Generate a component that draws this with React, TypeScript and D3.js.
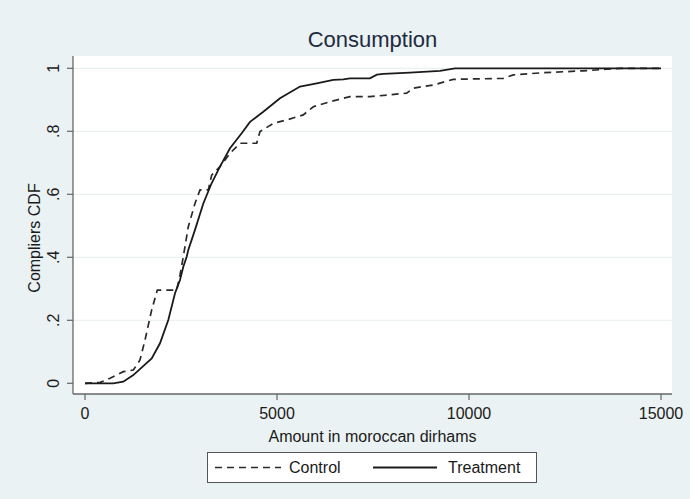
import React from "react";
import * as d3 from "d3";

const title = "Consumption";
const xTicks = [0, 5000, 10000, 15000];
const yTicks = [0, 0.2, 0.4, 0.6, 0.8, 1];
const yTickLabels = ["0", ".2", ".4", ".6", ".8", "1"];
const xLabel = "Amount in moroccan dirhams";
const yLabel = "Compliers CDF";
const seriesNames = ["Control", "Treatment"];

const treatmentX = [0, 737, 997, 1258, 1737, 1953, 2169, 2344, 2474, 2560, 2648, 2690, 2864, 3081, 3297, 3515, 3776, 4080, 4297, 4643, 5078, 5599, 6034, 6466, 6726, 6900, 7421, 7600, 7768, 8463, 9245, 9635, 15000];
const treatmentY = [0, 0, 0.005, 0.026, 0.079, 0.127, 0.201, 0.286, 0.328, 0.37, 0.402, 0.423, 0.487, 0.571, 0.635, 0.688, 0.746, 0.794, 0.83, 0.862, 0.905, 0.942, 0.952, 0.963, 0.965, 0.968, 0.968, 0.98, 0.982, 0.986, 0.992, 1.0, 1.0];

const controlX = [0, 400, 651, 997, 1258, 1432, 1562, 1737, 1883, 2388, 2474, 2560, 2690, 2864, 2995, 3211, 3299, 3515, 3776, 4036, 4471, 4557, 4903, 5252, 5684, 5945, 6380, 6726, 6900, 7421, 8377, 8549, 9070, 9590, 10893, 11153, 11934, 12976, 13585, 13932, 15000];
const controlY = [0, 0.003, 0.016, 0.037, 0.042, 0.074, 0.137, 0.233, 0.296, 0.296, 0.344, 0.402, 0.497, 0.571, 0.614, 0.614, 0.661, 0.688, 0.73, 0.762, 0.762, 0.799, 0.825, 0.836, 0.852, 0.878, 0.894, 0.905, 0.91, 0.91, 0.921, 0.937, 0.947, 0.965, 0.968, 0.979, 0.986, 0.992, 0.997, 1.0, 1.0];

const W = 690;
const H = 499;
const FONT = "'Liberation Sans', Arial, Helvetica, sans-serif";

export default function App() {
  const plot = { left: 73, right: 672, top: 56, bottom: 394 };
  const x = d3.scaleLinear().domain([0, 15000]).range([85, 661]);
  const y = d3.scaleLinear().domain([0, 1]).range([383.3, 68.3]);

  const line = d3
    .line<[number, number]>()
    .x((d) => x(d[0]))
    .y((d) => y(d[1]));

  const treat = line(treatmentX.map((v, i) => [v, treatmentY[i]] as [number, number])) || "";
  const ctrl = line(controlX.map((v, i) => [v, controlY[i]] as [number, number])) || "";

  const legY = 467.5;

  return (
    <svg
      width={W}
      height={H}
      viewBox={`0 0 ${W} ${H}`}
      style={{ position: "absolute", left: 0, top: 0, display: "block" }}
      fontFamily={FONT}
    >
      <rect x={0} y={0} width={W} height={H} fill="#eaf2f3" />
      <rect
        x={plot.left}
        y={plot.top}
        width={plot.right - plot.left}
        height={plot.bottom - plot.top}
        fill="#ffffff"
      />
      {yTicks
        .filter((t) => t > 0)
        .map((t) => (
          <line
            key={"g" + t}
            x1={plot.left}
            x2={plot.right}
            y1={y(t)}
            y2={y(t)}
            stroke="#e6eeef"
            strokeWidth={1}
          />
        ))}
      <text
        x={(plot.left + plot.right) / 2}
        y={47}
        textAnchor="middle"
        fontSize={22}
        fill="#1e2b40"
      >
        {title}
      </text>
      <line x1={plot.left} x2={plot.left} y1={plot.top} y2={plot.bottom} stroke="#666" strokeWidth={1.3} />
      <line x1={plot.left} x2={plot.right} y1={plot.bottom} y2={plot.bottom} stroke="#666" strokeWidth={1.3} />
      {yTicks.map((t, i) => (
        <g key={"yt" + t}>
          <line x1={plot.left - 6} x2={plot.left} y1={y(t)} y2={y(t)} stroke="#666" strokeWidth={1.2} />
          <text
            transform={`translate(${59},${y(t)}) rotate(-90)`}
            textAnchor="middle"
            fontSize={16}
            fill="#1a1a1a"
          >
            {yTickLabels[i]}
          </text>
        </g>
      ))}
      {xTicks.map((t) => (
        <g key={"xt" + t}>
          <line x1={x(t)} x2={x(t)} y1={plot.bottom} y2={plot.bottom + 6} stroke="#666" strokeWidth={1.2} />
          <text x={x(t)} y={418.5} textAnchor="middle" fontSize={16} fill="#1a1a1a">
            {d3.format("d")(t)}
          </text>
        </g>
      ))}
      <text
        x={(plot.left + plot.right) / 2}
        y={442}
        textAnchor="middle"
        fontSize={16}
        fill="#1a1a1a"
      >
        {xLabel}
      </text>
      <text
        transform={`translate(${40},${238}) rotate(-90)`}
        textAnchor="middle"
        fontSize={16}
        fill="#1a1a1a"
      >
        {yLabel}
      </text>
      <path d={ctrl} fill="none" stroke="#2a2a2a" strokeWidth={1.7} strokeDasharray="7,5" />
      <path d={treat} fill="none" stroke="#1a1a1a" strokeWidth={1.8} />
      <rect x={207.5} y={452.5} width={329} height={30} fill="#ffffff" stroke="#555" strokeWidth={1} />
      <line x1={215} x2={281} y1={legY} y2={legY} stroke="#2a2a2a" strokeWidth={1.7} strokeDasharray="7,5" />
      <text x={289} y={legY + 5.5} fontSize={16} fill="#1a1a1a">
        {seriesNames[0]}
      </text>
      <line x1={373} x2={437} y1={legY} y2={legY} stroke="#1a1a1a" strokeWidth={1.8} />
      <text x={448} y={legY + 5.5} fontSize={16} fill="#1a1a1a">
        {seriesNames[1]}
      </text>
    </svg>
  );
}
